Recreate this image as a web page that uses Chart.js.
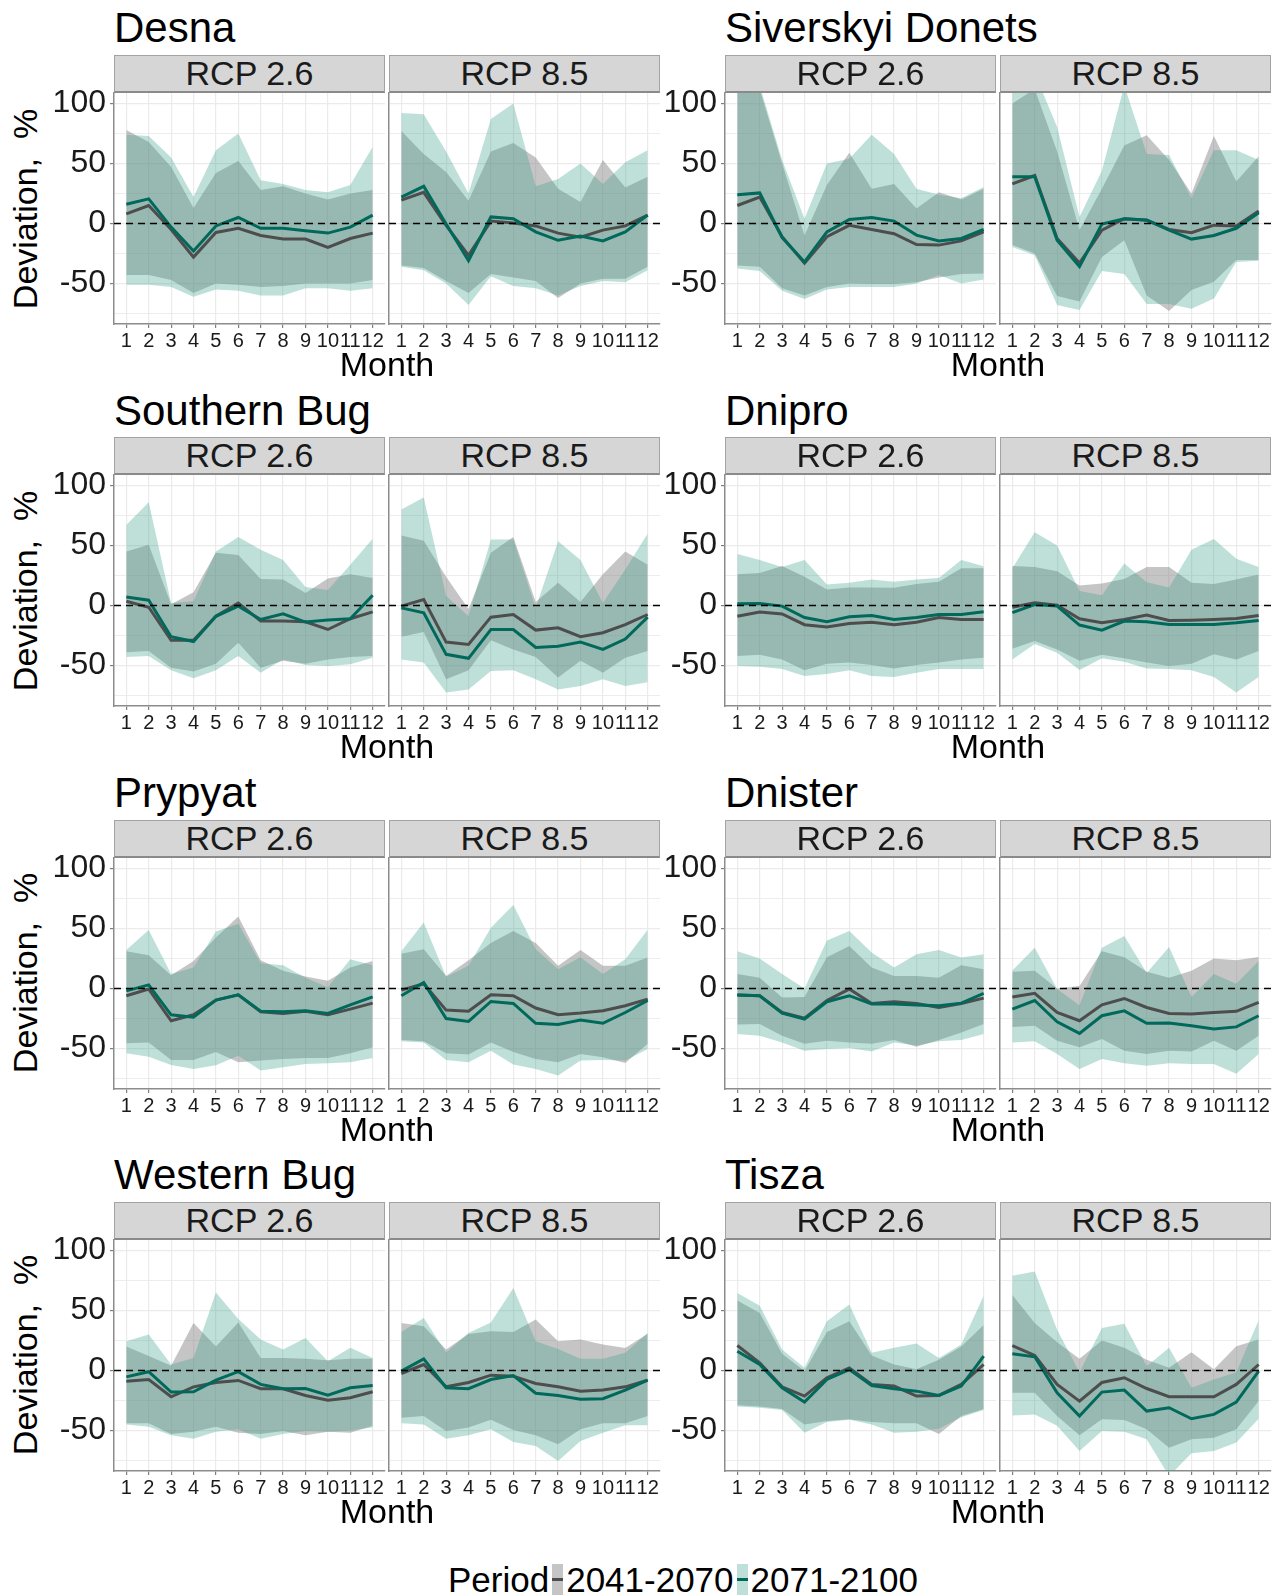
<!DOCTYPE html>
<html>
<head>
<meta charset="utf-8">
<script src="https://cdn.jsdelivr.net/npm/chart.js@4.4.0/dist/chart.umd.min.js"></script>
<style>
  body { margin: 0; background: #fff; width: 1282px; height: 1596px; position: relative; overflow: hidden;
         font-family: "Liberation Sans", Arial, sans-serif; color: #000; }
  .title { position: absolute; font-size: 42px; line-height: 1; white-space: nowrap; }
  .strip { position: absolute; box-sizing: border-box; background: #D6D6D6; border: 1px solid #A3A3A3;
           border-bottom: 2px solid #8A8A8A; text-align: center; font-size: 34px; color: #1a1a1a; }
  .xtitle { position: absolute; font-size: 34px; line-height: 1; text-align: center; }
  .ytitle { position: absolute; font-size: 34px; line-height: 1; white-space: pre;
            transform: translate(-50%, -50%) rotate(-90deg); }
  .legend { position: absolute; display: flex; align-items: center; font-size: 35px; line-height: 1; }
  .key { width: 11px; height: 31px; position: relative; margin: 0 3px; }
  .key span { position: absolute; left: 0; right: 0; top: 14px; height: 3px; }
</style>
</head>
<body>
<script>
const months = [1, 2, 3, 4, 5, 6, 7, 8, 9, 10, 11, 12];
const rivers = ["Desna", "Siverskyi Donets", "Southern Bug", "Dnipro", "Prypyat", "Dnister", "Western Bug", "Tisza"];
const scenarios = ["RCP 2.6", "RCP 8.5"];
const periods = ["2041-2070", "2071-2100"];
const yGrid = [-75, -50, -25, 0, 25, 50, 75, 100];
const yLabels = [-50, 0, 50, 100];

// lo/hi = ribbon bounds, mid = mean line; 41 = 2041-2070, 71 = 2071-2100
const desna26_lo41 = [-43, -43, -47, -58, -50, -51, -53, -52, -50, -50, -50, -47];
const desna26_hi41 = [78, 68, 47, 13, 42, 52, 28, 31, 25, 20, 25, 28];
const desna26_lo71 = [-51, -51, -53, -61, -55, -56, -60, -60, -54, -54, -56, -54];
const desna26_hi71 = [74, 73, 55, 22, 61, 75, 36, 33, 28, 26, 32, 64];
const desna26_mid41 = [8, 15, -5, -28, -7.5, -4, -10, -13, -13, -20, -12.5, -8];
const desna26_mid71 = [16, 20.5, -3, -23, -2, 5, -4, -4, -6, -8, -3, 7];

const desna85_lo41 = [-35, -37, -48, -58, -42, -45, -48, -62, -50, -46, -46, -36];
const desna85_hi41 = [77, 58, 43, 19, 60, 67, 55, 29, 18, 53, 30, 39];
const desna85_lo71 = [-36, -39, -50, -68, -44, -52, -54, -60, -52, -48, -49, -39];
const desna85_hi71 = [92, 91, 60, 25, 87, 100, 31, 37, 50, 33, 51, 61];
const desna85_mid41 = [19.5, 26, -1.5, -26.5, 2, 0.5, -2, -8, -11.5, -5.5, -2, 7];
const desna85_mid71 = [22, 31, -0.5, -31, 5.5, 4, -7, -14, -10.5, -14.5, -7, 7];

const donets26_lo41 = [-35, -36, -54, -60, -53, -50, -50.5, -50.5, -49, -45, -42, -41.6];
const donets26_hi41 = [125, 112, 50, -10, 32, 59, 29, 33, 12.5, 26, 20, 29];
const donets26_lo71 = [-37.5, -39.5, -56, -63, -55, -53, -53, -53, -50, -43, -50, -46.6];
const donets26_hi71 = [130, 115, 53, 4, 50, 54, 74, 58, 29, 24, 21, 30.5];
const donets26_mid41 = [15, 22, -11, -33, -11, -1.5, -5, -8.5, -17.5, -18, -14.5, -7];
const donets26_mid71 = [24, 25.5, -11.7, -32, -7, 3.3, 5, 2, -9.7, -14.5, -12.5, -5];

const donets85_lo41 = [-18, -25, -60.5, -65, -28, -14, -60, -73, -55.5, -48.6, -30.5, -30.5];
const donets85_hi41 = [100, 112, 60, -5.5, 29, 65, 73.6, 53, 25, 73, 35, 56];
const donets85_lo71 = [-19.5, -26.4, -68, -72, -39.5, -42, -67, -67, -71, -62.5, -32, -31];
const donets85_hi71 = [112, 125, 80.5, 5.5, 44, 115, 58, 57, 21, 61, 61, 53];
const donets85_mid41 = [33, 40, -12.5, -33, -5.5, 4, 2.7, -5, -7.7, -1.4, -2, 10.5];
const donets85_mid71 = [39, 39, -14, -36, -0.5, 4, 3, -5.5, -13, -10, -4, 9];

const sbug26_lo41 = [-39, -38, -51.8, -55, -48.5, -31, -51.8, -46, -48.5, -45, -43, -42];
const sbug26_hi41 = [45, 50.7, 1, 11, 44, 42, 22, 21.6, 10.5, 22.4, 26, 23];
const sbug26_lo71 = [-43, -42, -54, -60.6, -54, -42, -56, -45, -49.6, -50.4, -49, -43.5];
const sbug26_hi71 = [67, 86, 2, 3.6, 45, 57, 46.5, 38, 15.5, 13, 34, 55.7];
const sbug26_mid41 = [3.6, -1.4, -29, -29, -9, 2, -13, -13, -13.6, -20, -11, -5.3];
const sbug26_mid71 = [7, 4.4, -26, -30, -9, -0.5, -11.6, -7, -13.8, -12, -11, 8.6];

const sbug85_lo41 = [-26, -22, -61.5, -54, -29, -36.6, -43, -60, -46, -56, -43.5, -38];
const sbug85_hi41 = [58.4, 54, 24, -3, 44, 57, 3, 19, 3, 26, 45, 34];
const sbug85_lo71 = [-45, -47.6, -72.6, -70, -54.6, -54, -61.5, -70, -67, -61.5, -67, -64];
const sbug85_hi71 = [80, 90, 8, -9, 55, 55, -2, 53.5, 38, 2, 30, 60];
const sbug85_mid41 = [-0.5, 5, -30.5, -32.4, -9.7, -7.5, -20.5, -18.6, -26, -22.7, -16, -7.5];
const sbug85_mid71 = [-2, -6, -40.7, -44, -20, -20, -35, -34, -30.5, -36.6, -28, -9.7];

const dnipro26_lo41 = [-42, -41, -45, -54, -48.5, -47.6, -49.6, -52.4, -49.6, -47.6, -45, -43.5];
const dnipro26_hi41 = [26, 27, 33, 24, 13.3, 15, 15, 14.7, 18, 19.7, 31, 31];
const dnipro26_lo71 = [-50.4, -51, -53, -58.7, -57, -54, -58.7, -59.6, -56, -53, -53, -53];
const dnipro26_hi71 = [43, 38, 32, 38, 17.5, 19, 21.6, 19.7, 21.6, 23, 38, 32.7];
const dnipro26_mid41 = [-9, -5.5, -7, -16, -18, -15, -14, -16, -14, -10, -11.6, -11.6];
const dnipro26_mid71 = [1.4, 1.7, -0.5, -10, -13.6, -9.4, -8.3, -11.6, -10, -7.5, -7.5, -5.3];

const dnipro85_lo41 = [-36, -29.6, -36.6, -46, -41, -44, -47.6, -50.4, -48.5, -40.7, -45, -38];
const dnipro85_hi41 = [33, 32, 28.5, 16.6, 18.3, 22, 32, 32, 19, 18, 21.6, 25.8];
const dnipro85_lo71 = [-45, -32, -39.3, -53.7, -44, -46.8, -52.4, -53, -54, -59.6, -72.6, -59.6];
const dnipro85_hi71 = [31, 61, 50, 12, 8.6, 35, 19.4, 15, 46.5, 55.4, 39, 32];
const dnipro85_mid41 = [-1.4, 2.2, 0.3, -11, -14.4, -11.6, -8, -12.5, -12.2, -11.6, -10.8, -8.3];
const dnipro85_mid71 = [-6, 0.8, -0.5, -16.3, -20.5, -13, -13.6, -15.8, -15.8, -15.8, -14.4, -12.5];

const prypyat26_lo41 = [-45.7, -45, -59.6, -59.6, -53, -61.5, -60, -58.7, -58, -58, -54, -49];
const prypyat26_hi41 = [31, 27.7, 11, 23, 42.4, 60, 23.5, 14.7, 10, 6.4, 17.5, 23];
const prypyat26_lo71 = [-54, -56.8, -63.7, -67, -64, -56, -68.4, -65.6, -62.9, -62.3, -61.5, -57.9];
const prypyat26_hi71 = [32, 48.8, 12, 17.5, 47.4, 54, 21, 19.4, 9, 1, 24.4, 19.4];
const prypyat26_mid41 = [-6, -0.5, -26.9, -21.9, -9.7, -5.3, -19.4, -20.8, -19, -21.9, -17.2, -12.2];
const prypyat26_mid71 = [-2, 3, -21.9, -24, -9.7, -5.3, -19, -19.4, -18.6, -20.8, -13.6, -7];

const prypyat85_lo41 = [-43, -44, -54, -55, -45, -53, -58.7, -61.5, -54.6, -57.3, -62, -46];
const prypyat85_hi41 = [29, 32.7, 10.5, 23.5, 38, 48, 38, 19, 32, 19, 19, 25.8];
const prypyat85_lo71 = [-44, -45, -59.6, -61.5, -51.8, -63.4, -67, -72.6, -60, -59.6, -60, -50.4];
const prypyat85_hi71 = [31, 55, 9.7, 19, 50.7, 69.5, 32.7, 16, 26, 12, 24.4, 49];
const prypyat85_mid41 = [-1.4, 4, -18, -19, -5.3, -6, -16.3, -21.9, -20.5, -18.6, -14.4, -8.9];
const prypyat85_mid71 = [-6, 5, -25, -27.4, -10.8, -12.5, -29, -30, -26.3, -29, -20, -10];

const dnister26_lo41 = [-30, -29.6, -39.3, -46, -43.5, -45, -46, -43, -48.5, -43, -36.6, -29.6];
const dnister26_hi41 = [12, 9, -7.5, -7, 26, 35.5, 17.5, 10.5, 10.5, 9, 19.4, 16];
const dnister26_lo71 = [-38, -39.3, -45, -51.8, -50.4, -49.6, -52.4, -45, -47.6, -44, -43, -38];
const dnister26_hi71 = [31, 25, 12, 0, 40, 48, 30, 17.5, 28.5, 32, 25.8, 28.5];
const dnister26_mid41 = [-5.5, -6, -20, -24.7, -10, -0.5, -12.5, -11, -12.5, -15.8, -12.5, -8];
const dnister26_mid71 = [-5.5, -6, -20.5, -25.5, -11, -6, -13, -13, -13.8, -14.4, -12.2, -4];

const dnister85_lo41 = [-32, -31, -43.5, -49, -42, -51.8, -54.6, -51.8, -52.4, -43.5, -51.8, -39.3];
const dnister85_hi41 = [14, 14.7, 0, 2, 31, 26, 14, 9, 14.7, 25, 23.5, 26.3];
const dnister85_lo71 = [-45, -44, -54.6, -67, -58.7, -62.3, -64.3, -62.3, -62.9, -62.9, -71, -54.6];
const dnister85_hi71 = [15, 34, -0.5, -14, 34, 43.7, 13, 34.6, -7, 12, 4, 23];
const dnister85_mid41 = [-7, -4, -20, -26.9, -13.6, -8.3, -15.8, -20.8, -21.3, -20, -19, -11.6];
const dnister85_mid71 = [-17.2, -10, -27.7, -37.4, -22.7, -18.6, -29, -28.8, -31, -33.8, -32, -22.7];

const wbug26_lo41 = [-44, -44, -53, -51, -46.8, -51.8, -53, -50.4, -54, -51, -51.8, -46];
const wbug26_hi41 = [20, 12, 4, 39.6, 20, 40, 10.5, 10.5, 9.7, 8.6, 9.7, 9.7];
const wbug26_lo71 = [-45, -46.8, -54, -56.8, -51, -49, -56.8, -53, -50.4, -51, -50, -47.6];
const wbug26_hi71 = [24.4, 30, 5, 10.5, 65, 43, 25.8, 17.5, 27, 7.8, 19, 10.5];
const wbug26_mid41 = [-9, -7.5, -21.9, -13.6, -10, -8.3, -15.2, -15.2, -20.8, -24.7, -22.7, -17.7];
const wbug26_mid71 = [-5.3, -1, -18, -17.7, -8, -1, -11.6, -15.2, -15, -20.5, -14.4, -12.5];

const wbug85_lo41 = [-39.3, -38, -50.4, -47.6, -41, -49.6, -54, -61.5, -49, -44, -44, -38];
const wbug85_hi41 = [39.6, 36.8, 17.5, 30.5, 32.7, 32, 42.4, 24.4, 25.8, 21.6, 18.8, 30.7];
const wbug85_lo71 = [-44, -45, -56.8, -54, -49, -59.6, -62.9, -75.4, -58.7, -51.8, -45.7, -45.7];
const wbug85_hi71 = [32, 43.7, 15, 31.3, 40, 68.7, 24.4, 18, 9.7, 9.7, 14.7, 31.3];
const wbug85_mid41 = [-2.5, 5, -13.6, -10, -3.9, -4.7, -10.8, -13.6, -17.2, -16.3, -13.6, -8];
const wbug85_mid71 = [-0.5, 9.7, -14.4, -15.2, -7.5, -4.2, -19, -20.8, -24, -23.5, -16.3, -8];

const tisza26_lo41 = [-29, -30, -32, -45, -42, -40.7, -43, -44, -44, -53, -38, -32];
const tisza26_hi41 = [58.4, 48, 14, -0.5, 32, 41, 12.5, 5, 1, 9, 20, 38];
const tisza26_lo71 = [-30, -31, -33, -51.8, -43, -41, -45, -51.8, -51, -48.5, -39, -33];
const tisza26_hi71 = [64.5, 54, 17.5, 2.2, 41, 55, 14.7, 19, 22.4, 10.5, 21.6, 62.3];
const tisza26_mid41 = [20.8, 6.4, -13.6, -21.3, -6, 2.2, -11.6, -13, -21.3, -20.8, -11.6, 5];
const tisza26_mid71 = [16, 5, -14.4, -26.3, -7.5, 0.8, -12.5, -15.2, -17.2, -20.8, -13, 12];

const tisza85_lo41 = [-18.6, -18.6, -38, -54, -40.7, -41.3, -49, -64.3, -57.3, -56, -49, -25.5];
const tisza85_hi41 = [63, 39.6, 23.5, 9.7, 25, 19, 9, 2.2, 15.2, 1, 20.2, 25.8];
const tisza85_lo71 = [-37.4, -36.6, -46, -67, -50.4, -51, -57.3, -88, -69, -67, -60, -40.2];
const tisza85_hi71 = [79, 82.5, 34, -1.4, 35.5, 39, 3.6, 19, -14.4, -7.5, -1.4, 41.8];
const tisza85_mid41 = [20.8, 12.5, -11.6, -25.5, -10, -6, -15, -21.9, -21.9, -21.9, -11.6, 5];
const tisza85_mid71 = [14, 11.4, -18.6, -38, -18, -16.3, -33.8, -31, -40.2, -36.6, -26.3, -0.5];

// per river: [RCP 2.6, RCP 8.5], each [lo41, hi41, lo71, hi71, mid41, mid71]
const riverSeries = [
  [[desna26_lo41, desna26_hi41, desna26_lo71, desna26_hi71, desna26_mid41, desna26_mid71],
   [desna85_lo41, desna85_hi41, desna85_lo71, desna85_hi71, desna85_mid41, desna85_mid71]],
  [[donets26_lo41, donets26_hi41, donets26_lo71, donets26_hi71, donets26_mid41, donets26_mid71],
   [donets85_lo41, donets85_hi41, donets85_lo71, donets85_hi71, donets85_mid41, donets85_mid71]],
  [[sbug26_lo41, sbug26_hi41, sbug26_lo71, sbug26_hi71, sbug26_mid41, sbug26_mid71],
   [sbug85_lo41, sbug85_hi41, sbug85_lo71, sbug85_hi71, sbug85_mid41, sbug85_mid71]],
  [[dnipro26_lo41, dnipro26_hi41, dnipro26_lo71, dnipro26_hi71, dnipro26_mid41, dnipro26_mid71],
   [dnipro85_lo41, dnipro85_hi41, dnipro85_lo71, dnipro85_hi71, dnipro85_mid41, dnipro85_mid71]],
  [[prypyat26_lo41, prypyat26_hi41, prypyat26_lo71, prypyat26_hi71, prypyat26_mid41, prypyat26_mid71],
   [prypyat85_lo41, prypyat85_hi41, prypyat85_lo71, prypyat85_hi71, prypyat85_mid41, prypyat85_mid71]],
  [[dnister26_lo41, dnister26_hi41, dnister26_lo71, dnister26_hi71, dnister26_mid41, dnister26_mid71],
   [dnister85_lo41, dnister85_hi41, dnister85_lo71, dnister85_hi71, dnister85_mid41, dnister85_mid71]],
  [[wbug26_lo41, wbug26_hi41, wbug26_lo71, wbug26_hi71, wbug26_mid41, wbug26_mid71],
   [wbug85_lo41, wbug85_hi41, wbug85_lo71, wbug85_hi71, wbug85_mid41, wbug85_mid71]],
  [[tisza26_lo41, tisza26_hi41, tisza26_lo71, tisza26_hi71, tisza26_mid41, tisza26_mid71],
   [tisza85_lo41, tisza85_hi41, tisza85_lo71, tisza85_hi71, tisza85_mid41, tisza85_mid71]],
];

const FONT = '"Liberation Sans", Arial, sans-serif';
const greyFill = "rgba(128,128,128,0.46)";
const tealFill = "rgba(52,158,133,0.32)";
const greyLine = "#4D4D4D";
const tealLine = "#00695C";

// layout (px)
const COL_X = [114, 725];
const ROW_Y = 93;
const ROW_STEP = 382.3;
const PW = 271;
const PH = 231;
const PGAP = 4;
const YAXIS_W = 64;
const XAXIS_H = 34;
const PAD_TOP = 20;
const STRIP_H = 38;

function pts(arr) {
  return months.map((m, i) => ({ x: m, y: arr[i] }));
}

function addDiv(cls, text, css) {
  const d = document.createElement("div");
  d.className = cls;
  d.textContent = text;
  Object.assign(d.style, css);
  document.body.appendChild(d);
  return d;
}

const zeroLine = {
  id: "zeroLine",
  afterDatasetsDraw(chart) {
    const { ctx, chartArea, scales } = chart;
    const y = scales.y.getPixelForValue(0);
    ctx.save();
    ctx.strokeStyle = "#000";
    ctx.lineWidth = 1.6;
    ctx.setLineDash([7, 5]);
    ctx.beginPath();
    ctx.moveTo(chartArea.left, y);
    ctx.lineTo(chartArea.right, y);
    ctx.stroke();
    ctx.restore();
  },
};

function makePanel(left, top, series, showY) {
  const cv = document.createElement("canvas");
  const w = YAXIS_W + PW + 2;
  const h = PAD_TOP + PH + XAXIS_H;
  cv.width = w;
  cv.height = h;
  cv.style.cssText = `position:absolute;left:${left - YAXIS_W}px;top:${top - PAD_TOP}px;width:${w}px;height:${h}px`;
  document.body.appendChild(cv);

  const [lo41, hi41, lo71, hi71, mid41, mid71] = series;
  const band = { borderWidth: 0, borderColor: "transparent", pointRadius: 0 };

  new Chart(cv, {
    type: "line",
    data: {
      datasets: [
        { ...band, label: periods[0], data: pts(lo41), fill: false, order: 4 },
        { ...band, label: periods[0], data: pts(hi41), fill: 0, backgroundColor: greyFill, order: 4 },
        { ...band, label: periods[1], data: pts(lo71), fill: false, order: 3 },
        { ...band, label: periods[1], data: pts(hi71), fill: 2, backgroundColor: tealFill, order: 3 },
        { label: periods[0], data: pts(mid41), borderColor: greyLine, borderWidth: 3, pointRadius: 0, fill: false, order: 2 },
        { label: periods[1], data: pts(mid71), borderColor: tealLine, borderWidth: 3, pointRadius: 0, fill: false, order: 1 },
      ],
    },
    options: {
      responsive: false,
      animation: false,
      devicePixelRatio: 1,
      layout: { padding: { top: PAD_TOP, right: 2, left: 0, bottom: 0 } },
      plugins: { legend: { display: false }, tooltip: { enabled: false } },
      scales: {
        x: {
          type: "linear",
          min: 0.45,
          max: 12.55,
          afterBuildTicks: (s) => { s.ticks = months.map((v) => ({ value: v })); },
          afterFit: (s) => { s.height = XAXIS_H; s.paddingLeft = 0; s.paddingRight = 0; },
          ticks: { autoSkip: false, maxRotation: 0, minRotation: 0, padding: 1, color: "#1a1a1a",
                   font: { family: FONT, size: 20 } },
          grid: { color: "#EBEBEB", lineWidth: 1.2, tickColor: "#7f7f7f", tickLength: 4 },
          border: { color: "#8c8c8c", width: 1.5 },
        },
        y: {
          type: "linear",
          min: -83.75,
          max: 108.75,
          afterBuildTicks: (s) => { s.ticks = yGrid.map((v) => ({ value: v })); },
          afterFit: (s) => { s.width = YAXIS_W; s.paddingTop = 0; s.paddingBottom = 0; },
          ticks: {
            autoSkip: false,
            callback: (v) => (showY && yLabels.includes(v) ? String(v) : ""),
            padding: 4, color: "#1a1a1a", font: { family: FONT, size: 32 },
          },
          grid: {
            color: "#EBEBEB",
            lineWidth: (c) => (c.tick && yLabels.includes(c.tick.value) ? 1.2 : 0.9),
            tickColor: (c) => (showY && c.tick && yLabels.includes(c.tick.value) ? "#7f7f7f" : "transparent"),
            tickLength: 4,
          },
          border: { color: "#8c8c8c", width: 1.5 },
        },
      },
    },
    plugins: [zeroLine],
  });
}

rivers.forEach((name, i) => {
  const row = Math.floor(i / 2);
  const col = i % 2;
  const top = ROW_Y + ROW_STEP * row;
  const x0 = COL_X[col];

  addDiv("title", name, { left: x0 + "px", top: top - 50 - 0.85 * 42 + "px" });

  scenarios.forEach((sc, k) => {
    const left = x0 + k * (PW + PGAP);
    addDiv("strip", sc, { left: left + "px", top: top - STRIP_H + "px", width: PW + "px",
                          height: STRIP_H + "px", lineHeight: STRIP_H - 3 + "px" });
    makePanel(left, top, riverSeries[i][k], k === 0);
  });

  addDiv("xtitle", "Month", { left: x0 + "px", width: 2 * PW + PGAP + "px", top: top + PH + 52 - 0.85 * 34 + "px" });
  if (col === 0) {
    addDiv("ytitle", "Deviation,  %", { left: x0 - 89 + "px", top: top + PH / 2 + "px" });
  }
});

// legend
const legend = document.createElement("div");
legend.className = "legend";
legend.style.left = "448px";
legend.style.top = "1560px";
legend.style.height = "38px";
const addText = (t) => { const s = document.createElement("span"); s.textContent = t; legend.appendChild(s); };
const addKey = (bg, line) => {
  const k = document.createElement("div");
  k.className = "key";
  k.style.background = bg;
  const l = document.createElement("span");
  l.style.background = line;
  k.appendChild(l);
  legend.appendChild(k);
};
addText("Period");
addKey("rgb(197,197,197)", greyLine);
addText(periods[0]);
addKey("rgb(190,224,216)", tealLine);
addText(periods[1]);
document.body.appendChild(legend);
</script>
</body>
</html>
